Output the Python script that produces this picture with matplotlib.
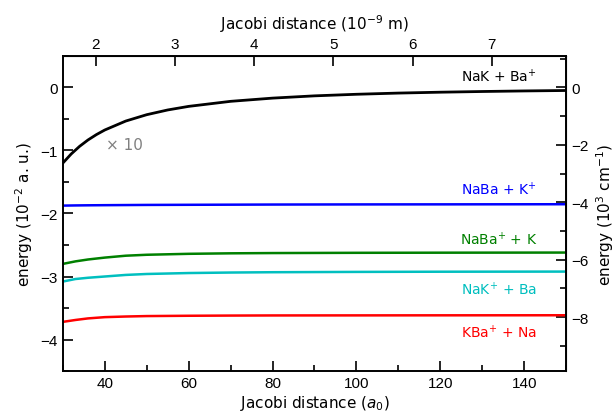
import numpy as np
import matplotlib
matplotlib.use("Agg")
import matplotlib.pyplot as plt
from matplotlib.ticker import MultipleLocator

# conversions
A0_NM = 0.0529177
AU_CM = 2.1947463  # 1e-2 hartree in 1e3 cm^-1

# curves (energy in 1e-2 a.u.)
r_black = [30, 32, 34, 36, 38, 40, 45, 50, 55, 60, 70, 80, 90, 100, 110, 120, 130, 140, 150]
e_black = [-1.20, -1.055, -0.934, -0.833, -0.748, -0.675, -0.533, -0.432, -0.357, -0.30,
           -0.22, -0.169, -0.133, -0.108, -0.089, -0.075, -0.064, -0.055, -0.048]  # x 10

r_col = [30, 33, 36, 40, 45, 50, 60, 70, 80, 100, 120, 150]
e_blue = [-1.875, -1.872, -1.870, -1.868, -1.866, -1.864, -1.862, -1.860, -1.858, -1.856, -1.855, -1.853]
e_green = [-2.80, -2.76, -2.73, -2.70, -2.67, -2.655, -2.64, -2.632, -2.628, -2.624, -2.622, -2.62]
e_cyan = [-3.08, -3.04, -3.02, -3.00, -2.975, -2.96, -2.945, -2.937, -2.932, -2.927, -2.924, -2.922]
e_red = [-3.72, -3.69, -3.665, -3.645, -3.635, -3.628, -3.623, -3.620, -3.618, -3.617, -3.616, -3.615]

labels = ["NaK + Ba$^{+}$", "NaBa + K$^{+}$", "NaBa$^{+}$ + K", "NaK$^{+}$ + Ba", "KBa$^{+}$ + Na"]
label_y = [0.18, -1.60, -2.40, -3.20, -3.88]
colors = ["k", "b", "g", "c", "r"]

plt.rcParams['font.family'] = 'DejaVu Sans'

fig = plt.figure(figsize=(6.16, 4.14), dpi=100)
ax = fig.add_axes([0.102, 0.1014, 0.817, 0.761])

ax.plot(r_black, e_black, color="k", lw=2)
ax.plot(r_col, e_blue, color="b", lw=1.8)
ax.plot(r_col, e_green, color="g", lw=1.8)
ax.plot(r_col, e_cyan, color="c", lw=1.8)
ax.plot(r_col, e_red, color="r", lw=1.8)

for lab, yy, cc in zip(labels, label_y, colors):
    ax.text(134, yy, lab, color=cc, ha="center", va="center", fontsize=10)
ax.text(44.8, -0.90, "× 10", color="gray", ha="center", va="center", fontsize=11)

ax.set_xlim(30, 150)
ax.set_ylim(-4.5, 0.5)
ax.xaxis.set_major_locator(MultipleLocator(20))
ax.xaxis.set_minor_locator(MultipleLocator(10))
ax.yaxis.set_major_locator(MultipleLocator(1))
ax.yaxis.set_minor_locator(MultipleLocator(0.5))
ax.tick_params(which="both", direction="in", top=False, right=False, width=1.2)
ax.tick_params(which="major", length=7)
ax.tick_params(which="minor", length=4)
for s in ax.spines.values():
    s.set_linewidth(1.4)

ax.set_xlabel("Jacobi distance ($a_0$)", fontsize=11, labelpad=2)
ax.set_ylabel("energy (10$^{-2}$ a. u.)", fontsize=11)

top = ax.secondary_xaxis("top", functions=(lambda r: r * A0_NM, lambda d: d / A0_NM))
top.xaxis.set_major_locator(MultipleLocator(1))
top.tick_params(direction="in", length=7, width=1.2)
top.set_xlabel("Jacobi distance (10$^{-9}$ m)", fontsize=11, labelpad=6)

right = ax.secondary_yaxis("right", functions=(lambda e: e * AU_CM, lambda c: c / AU_CM))
right.yaxis.set_major_locator(MultipleLocator(2))
right.yaxis.set_minor_locator(MultipleLocator(1))
right.tick_params(which="both", direction="in", width=1.2)
right.tick_params(which="major", length=7)
right.tick_params(which="minor", length=4)
right.set_ylabel("energy (10$^{3}$ cm$^{-1}$)", fontsize=11)

for a in (ax.xaxis, ax.yaxis, top.xaxis, right.yaxis):
    for t in a.get_ticklabels():
        t.set_family("Liberation Sans")
        t.set_fontsize(11)

fig.savefig("out.png", dpi=100)
